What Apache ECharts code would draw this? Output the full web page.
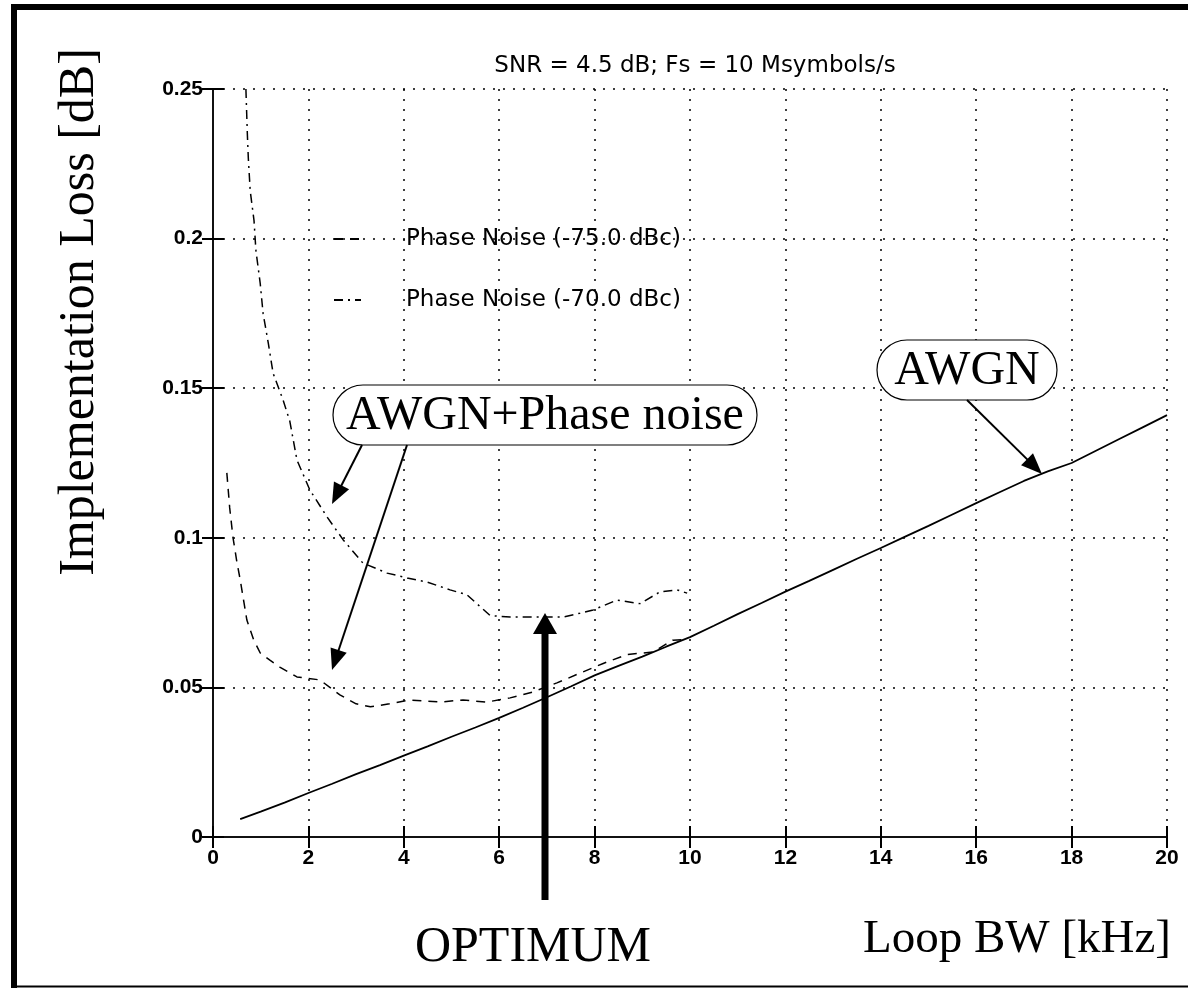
<!DOCTYPE html>
<html><head><meta charset="utf-8">
<script src="https://cdn.jsdelivr.net/npm/echarts@6/dist/echarts.min.js"></script>
<style>html,body{margin:0;padding:0;background:#fff}#c{width:1188px;height:988px}</style>
</head><body><div id="c"></div>
<script>
const titleText = 'SNR = 4.5 dB; Fs = 10 Msymbols/s';
const yTickLabels = ['0', '0.05', '0.1', '0.15', '0.2', '0.25'];
const legendNames = ['Phase Noise (-75.0 dBc)', 'Phase Noise (-70.0 dBc)'];

// AWGN only
const awgn = [[0.57,0.006],[1,0.0085],[1.5,0.0115],[2,0.0147],[2.5,0.0178],[3,0.021],[3.5,0.024],[4,0.0272],[4.5,0.0303],[5,0.0335],[5.5,0.0366],[6,0.0398],[6.5,0.0432],[7,0.0467],[7.5,0.0503],[8,0.054],[8.5,0.0572],[9,0.0603],[9.5,0.0636],[10,0.0668],[10.5,0.0706],[11,0.0745],[11.5,0.0782],[12,0.082],[12.5,0.0856],[13,0.0893],[13.5,0.093],[14,0.0966],[14.5,0.1003],[15,0.104],[15.5,0.1078],[16,0.1116],[16.5,0.1153],[17,0.119],[17.5,0.1222],[18,0.125],[18.5,0.129],[19,0.133],[19.5,0.137],[20,0.141]];

// AWGN + phase noise, -75 dBc (dashed)
const pn75 = [[0.29,0.1217],[0.35,0.11],[0.42,0.1],[0.5,0.092],[0.57,0.086],[0.71,0.0725],[0.85,0.066],[0.99,0.0615],[1.2,0.059],[1.4,0.0568],[1.76,0.0535],[2.24,0.0525],[2.66,0.0475],[3.0,0.0445],[3.3,0.0435],[3.7,0.0445],[4.13,0.0458],[4.76,0.0451],[5.24,0.0458],[5.74,0.0451],[6.23,0.0465],[6.71,0.0485],[7.21,0.0515],[7.7,0.0548],[8.18,0.058],[8.68,0.061],[9.22,0.0618],[9.64,0.0658],[9.95,0.066]];

// AWGN + phase noise, -70 dBc (dash-dot)
const pn70 = [[0.69,0.25],[0.72,0.235],[0.74,0.227],[0.78,0.216],[0.86,0.206],[0.9,0.196],[0.99,0.185],[1.05,0.175],[1.16,0.165],[1.26,0.155],[1.47,0.146],[1.61,0.139],[1.76,0.126],[2.03,0.116],[2.39,0.107],[2.73,0.0993],[3.14,0.0916],[3.65,0.0882],[4.07,0.0866],[4.49,0.0852],[4.97,0.0826],[5.32,0.081],[5.6,0.077],[5.81,0.074],[6.23,0.0735],[6.71,0.0735],[7.34,0.0735],[7.69,0.0748],[7.97,0.0759],[8.47,0.0792],[8.95,0.078],[9.37,0.0819],[9.73,0.0826],[9.94,0.0815]];

const dash75 = [9, 7];
const dash70 = [9, 5, 2, 5];
const MF = '"DejaVu Sans", sans-serif';
const TF = '"Liberation Sans", Arial, sans-serif';
const SF = '"Liberation Serif", "Times New Roman", serif';

function arrow(x1, y1, x2, y2, len, w) {
  const dx = x2 - x1, dy = y2 - y1, L = Math.hypot(dx, dy);
  const ux = dx / L, uy = dy / L;
  const bx = x2 - ux * len, by = y2 - uy * len;
  const px = -uy * w / 2, py = ux * w / 2;
  return [
    {type: 'line', z: 100, shape: {x1: x1, y1: y1, x2: bx + ux * 2, y2: by + uy * 2}, style: {stroke: '#000', lineWidth: 2}},
    {type: 'polygon', z: 100, shape: {points: [[x2, y2], [bx + px, by + py], [bx - px, by - py]]}, style: {fill: '#000'}}
  ];
}
function txt(x, y, text, font, align, rot) {
  return {type: 'text', z: 101, x: x, y: y, rotation: rot || 0,
    style: {text: text, font: font, fill: '#000', align: align || 'center', verticalAlign: 'middle',
            textAlign: align || 'center', textVerticalAlign: 'middle'}};
}
function box(x, y, w, h, text) {
  return [
    {type: 'rect', z: 100, shape: {x: x, y: y, width: w, height: h, r: h / 2}, style: {fill: '#fff', stroke: '#000', lineWidth: 1.2}},
    txt(x + w / 2, y + h / 2 + 1, text, '48px ' + SF)
  ];
}
function legendItem(y, dash, name) {
  return [
    {type: 'line', z: 100, shape: {x1: 334, y1: y, x2: 361, y2: y}, style: {stroke: '#000', lineWidth: 2, lineDash: dash}},
    txt(406, y, name, '23px ' + MF, 'left')
  ];
}

const chart = echarts.init(document.getElementById('c'), null, {renderer: 'canvas'});
const gridDot = {show: true, lineStyle: {color: '#000', width: 1.5, type: [2, 8]}};
const tickIn = {show: true, inside: true, length: 11, lineStyle: {color: '#000', width: 2}};
const axLine = {show: true, lineStyle: {color: '#111', width: 2}};

chart.setOption({
  animation: false,
  backgroundColor: '#fff',
  title: {
    text: titleText, left: 690, top: 49, textAlign: 'center',
    textStyle: {fontFamily: MF, fontSize: 23, fontWeight: 'normal', color: '#000', lineHeight: 24}
  },
  grid: {left: 213, right: 21, top: 89, bottom: 151, containLabel: false},
  xAxis: [
    {type: 'value', position: 'bottom', min: 0, max: 20, interval: 2,
     axisLine: axLine, axisTick: tickIn, splitLine: gridDot,
     axisLabel: {margin: 11, color: '#000', fontFamily: TF, fontSize: 21, fontWeight: 'bold'}},
    {type: 'value', position: 'top', min: 0, max: 20, interval: 2,
     axisLine: axLine, axisTick: tickIn, splitLine: {show: false}, axisLabel: {show: false}}
  ],
  yAxis: [
    {type: 'value', position: 'left', min: 0, max: 0.25, interval: 0.05,
     axisLine: axLine, axisTick: tickIn, splitLine: gridDot,
     axisLabel: {margin: 10, color: '#000', fontFamily: TF, fontSize: 21, fontWeight: 'bold',
       formatter: function (v) { return yTickLabels[Math.round(v / 0.05)]; }}},
    {type: 'value', position: 'right', min: 0, max: 0.25, interval: 0.05,
     axisLine: axLine, axisTick: tickIn, splitLine: {show: false}, axisLabel: {show: false}}
  ],
  series: [
    {name: 'AWGN', type: 'line', data: awgn, showSymbol: false, symbol: 'none',
     lineStyle: {color: '#000', width: 1.8}, z: 5},
    {name: legendNames[0], type: 'line', data: pn75, showSymbol: false, symbol: 'none',
     lineStyle: {color: '#000', width: 1.5, type: dash75}, z: 5},
    {name: legendNames[1], type: 'line', data: pn70, showSymbol: false, symbol: 'none',
     lineStyle: {color: '#000', width: 1.5, type: dash70}, z: 5}
  ],
  graphic: [].concat(
    [
      {type: 'rect', z: 200, shape: {x: 11, y: 4, width: 6, height: 984}, style: {fill: '#000'}},
      {type: 'rect', z: 200, shape: {x: 11, y: 4, width: 1177, height: 6}, style: {fill: '#000'}},
      {type: 'rect', z: 200, shape: {x: 11, y: 985.5, width: 1177, height: 2}, style: {fill: '#000'}},
      txt(80, 312, 'Implementation Loss [dB]', '50px ' + SF, 'center', Math.PI / 2),
      txt(533, 948, 'OPTIMUM', '50px ' + SF),
      txt(1017, 940, 'Loop BW [kHz]', '47px ' + SF),
      {type: 'rect', z: 100, shape: {x: 541.5, y: 630, width: 7, height: 270}, style: {fill: '#000'}},
      {type: 'polygon', z: 100, shape: {points: [[545, 613], [533, 634], [557, 634]]}, style: {fill: '#000'}}
    ],
    legendItem(239, dash75, legendNames[0]),
    legendItem(300, dash70, legendNames[1]),
    box(333, 385, 424, 60, 'AWGN+Phase noise'),
    box(877, 340, 180, 60, 'AWGN'),
    arrow(362, 445, 332, 504, 21, 17),
    arrow(407, 445, 332, 670, 21, 17),
    arrow(967, 400, 1042, 474, 21, 17)
  )
});
</script>
</body></html>
